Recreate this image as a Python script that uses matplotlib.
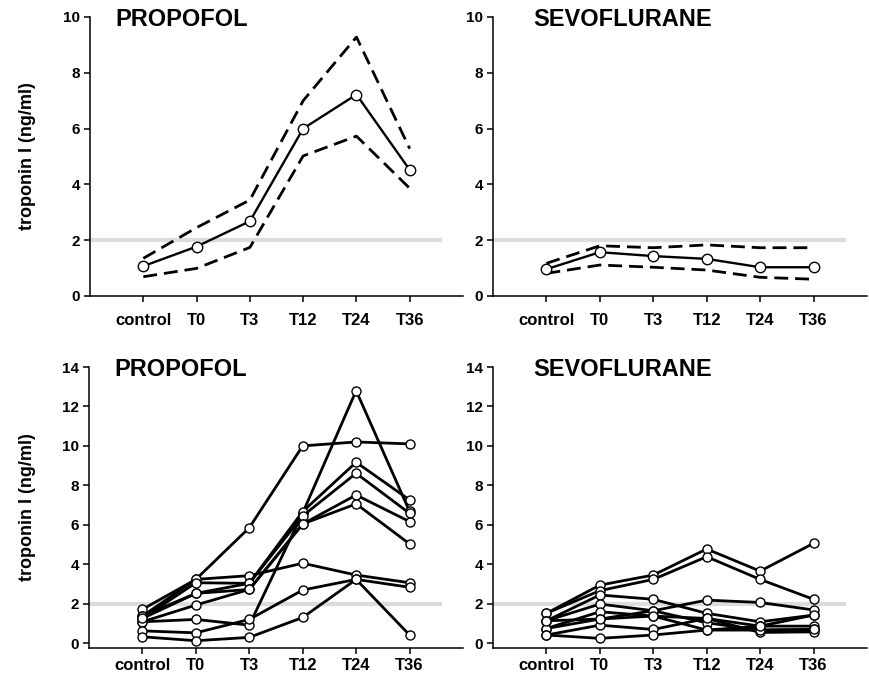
import matplotlib
matplotlib.use('Agg')
import matplotlib.pyplot as plt
import numpy as np

plt.rcParams['font.family'] = ['Liberation Sans', 'DejaVu Sans']
plt.rcParams['font.weight'] = 'bold'

times = ['control', 'T0', 'T3', 'T12', 'T24', 'T36']

# mean with upper / lower bounds (top panels)
prop_mean = [1.07, 1.77, 2.68, 6.0, 7.22, 4.52]
prop_upper = [1.35, 2.45, 3.44, 7.0, 9.28, 5.28]
prop_lower = [0.69, 0.99, 1.74, 5.02, 5.73, 3.86]

sevo_mean = [0.96, 1.57, 1.43, 1.33, 1.03, 1.03]
sevo_upper = [1.17, 1.80, 1.73, 1.83, 1.73, 1.73]
sevo_lower = [0.81, 1.11, 1.03, 0.93, 0.67, 0.60]

# individual patients (bottom panels)
prop_patients = [
    [1.71, 3.23, 5.85, 10.0, 10.2, 10.1],
    [1.08, 1.20, 0.91, 6.60, 12.8, 6.68],
    [1.37, 3.23, 3.42, 4.05, 3.45, 3.06],
    [1.25, 3.06, 3.03, 6.67, 9.17, 7.26],
    [1.37, 2.52, 3.03, 6.45, 8.61, 6.58],
    [1.08, 1.93, 2.72, 6.04, 7.51, 6.16],
    [1.25, 2.52, 2.72, 6.04, 7.06, 5.03],
    [0.62, 0.52, 1.20, 2.69, 3.23, 2.83],
    [0.32, 0.12, 0.29, 1.30, 3.23, 0.41],
]

sevo_patients = [
    [1.51, 2.94, 3.45, 4.77, 3.65, 5.06],
    [1.51, 2.66, 3.23, 4.38, 3.23, 2.22],
    [1.13, 2.44, 2.22, 1.51, 1.08, 1.42],
    [1.13, 1.98, 1.64, 2.18, 2.06, 1.68],
    [0.74, 1.59, 1.37, 1.25, 0.86, 0.86],
    [0.74, 1.22, 1.64, 1.03, 0.66, 0.69],
    [0.41, 0.91, 0.69, 1.25, 0.54, 0.57],
    [0.41, 0.24, 0.41, 0.66, 0.66, 0.69],
    [1.13, 1.22, 1.37, 0.66, 0.86, 1.42],
]

ref_level = 2.0

fig = plt.figure(figsize=(8.69, 6.77), dpi=100)
ax_tl = fig.add_axes([0.1036, 0.5628, 0.4292, 0.4121])
ax_tr = fig.add_axes([0.5673, 0.5628, 0.4304, 0.4121])
ax_bl = fig.add_axes([0.1024, 0.0428, 0.4304, 0.4151])
ax_br = fig.add_axes([0.5673, 0.0428, 0.4304, 0.4151])

x = np.arange(len(times))


def style(ax, ymax, ymin, yticks, xpad):
    ax.set_xlim(-1, 6)
    ax.set_ylim(ymin, ymax)
    ax.set_xticks(x)
    ax.set_xticklabels(times, fontsize=12, fontweight='bold')
    ax.set_yticks(yticks)
    ax.set_yticklabels([str(v) for v in yticks], fontsize=11, fontweight='bold')
    for s in ['top', 'right']:
        ax.spines[s].set_visible(False)
    for s in ['left', 'bottom']:
        ax.spines[s].set_linewidth(1.1)
    ax.tick_params(direction='out', length=4, width=1.1, pad=3)
    ax.tick_params(axis='x', pad=xpad)
    ax.hlines(ref_level, -1, 5.6, color='#dcdcdc', lw=3, zorder=1)


def mean_panel(ax, mean, upper, lower, title, tx):
    style(ax, 10, 0, list(range(0, 11, 2)), 8)
    ax.plot(x, upper, color='black', lw=2, ls=(0, (5, 2.5)), zorder=2)
    ax.plot(x, lower, color='black', lw=2, ls=(0, (5, 2.5)), zorder=2)
    ax.plot(x, mean, color='black', lw=1.7, marker='o', ms=7.5, mfc='white',
            mec='black', mew=1, zorder=3, clip_on=False)
    ax.text(tx, 0.99, title, transform=ax.transAxes, fontsize=17,
            fontweight='bold', va='center', ha='left')


def patient_panel(ax, patients, title, tx):
    style(ax, 14, -0.25, list(range(0, 15, 2)), 3)
    for p in patients:
        ax.plot(x, p, color='black', lw=2, marker='o', ms=6.5, mfc='white',
                mec='black', mew=1, zorder=3, clip_on=False)
    ax.text(tx, 0.99, title, transform=ax.transAxes, fontsize=17,
            fontweight='bold', va='center', ha='left')


mean_panel(ax_tl, prop_mean, prop_upper, prop_lower, 'PROPOFOL', 0.067)
mean_panel(ax_tr, sevo_mean, sevo_upper, sevo_lower, 'SEVOFLURANE', 0.107)
patient_panel(ax_bl, prop_patients, 'PROPOFOL', 0.067)
patient_panel(ax_br, sevo_patients, 'SEVOFLURANE', 0.107)

fig.text(0.032, 0.769, 'troponin I (ng/ml)', rotation=90, fontsize=13,
         fontweight='bold', ha='center', va='center')
fig.text(0.032, 0.251, 'troponin I (ng/ml)', rotation=90, fontsize=13,
         fontweight='bold', ha='center', va='center')

fig.savefig('out.png', dpi=100)
